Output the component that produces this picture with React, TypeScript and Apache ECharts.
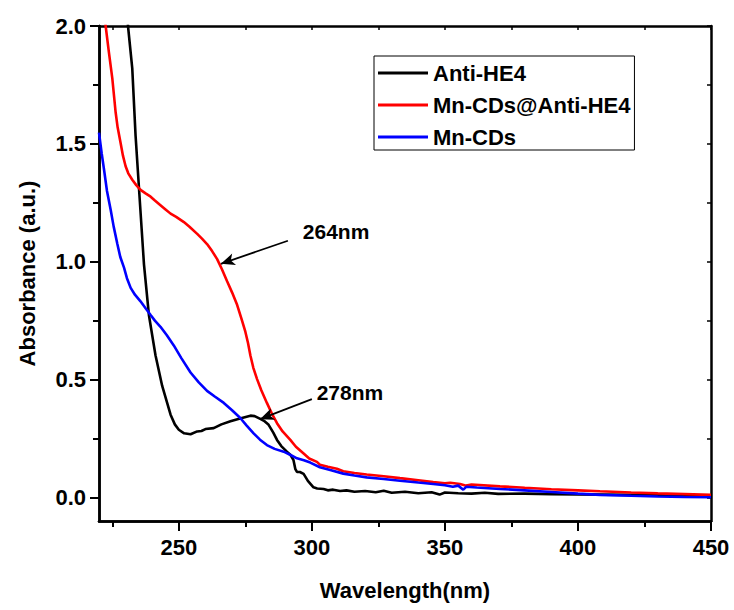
import React, { useEffect, useRef } from "react";
import * as echarts from "echarts";

const FONT = "'Liberation Sans', Arial, sans-serif";

const seriesNames = ["Anti-HE4", "Mn-CDs@Anti-HE4", "Mn-CDs"];
const seriesColors = ["#000000", "#ff0000", "#0000ff"];

const xLabelValues = [250, 300, 350, 400, 450];
const xMinorTicks = [225, 275, 325, 375, 425];
const xAllTicks = [225, 250, 275, 300, 325, 350, 375, 400, 425, 450];
const yLabelValues = [0, 0.5, 1, 1.5, 2];
const yMinorTicks = [0.25, 0.75, 1.25, 1.75];
const yAllTicks = [0, 0.25, 0.5, 0.75, 1, 1.25, 1.5, 1.75, 2];

const antiHE4: [number, number][] = [
  [228, 2.6], [230, 2.15], [230.9, 2.0], [232.5, 1.82], [233.75, 1.534], [235.4, 1.247],
  [236.9, 0.989], [238.75, 0.774], [241.25, 0.602], [243.75, 0.473], [246.9, 0.351],
  [248.5, 0.31], [250, 0.287], [252, 0.272], [254.4, 0.268], [256.9, 0.28], [258.5, 0.282],
  [260, 0.29], [263.1, 0.294], [266, 0.31], [269.4, 0.323], [273, 0.335], [276.9, 0.347],
  [278.5, 0.345], [280.6, 0.333], [282, 0.325], [283.75, 0.308], [285.5, 0.275], [286.9, 0.244],
  [288.5, 0.218], [290.6, 0.194], [292, 0.18], [293.1, 0.158], [293.8, 0.12], [294.4, 0.108],
  [295.5, 0.108], [296.9, 0.1], [298.5, 0.07], [300.6, 0.043], [302, 0.038], [304.4, 0.036],
  [306, 0.03], [308, 0.033], [310.6, 0.027], [313, 0.03], [316, 0.024], [320, 0.027],
  [324, 0.022], [327, 0.028], [330, 0.02], [335, 0.024], [340, 0.018], [345, 0.022],
  [348, 0.012], [350, 0.021], [355, 0.018], [360, 0.016], [365, 0.02], [370, 0.015],
  [380, 0.016], [390, 0.014], [400, 0.013], [410, 0.012], [420, 0.011], [430, 0.01],
  [440, 0.009], [450, 0.008],
];

const mnCDsAntiHE4: [number, number][] = [
  [221, 2.2], [222.5, 2.0], [223.7, 1.89], [225, 1.778], [226.25, 1.634], [227, 1.57],
  [228.1, 1.505], [229, 1.45], [230, 1.405], [231, 1.375], [232.5, 1.348], [234, 1.325],
  [235.6, 1.305], [237.5, 1.29], [239.4, 1.276], [241, 1.26], [243.1, 1.24], [245, 1.222],
  [246.9, 1.204], [249, 1.19], [251.9, 1.168], [254, 1.148], [256.9, 1.118], [258.7, 1.098],
  [260.6, 1.075], [262.5, 1.045], [264.4, 1.011], [266.2, 0.968], [268.1, 0.918], [270, 0.87],
  [271.9, 0.817], [273.5, 0.76], [275, 0.703], [276, 0.655], [276.9, 0.602], [278, 0.55],
  [279.4, 0.502], [281, 0.455], [283.1, 0.401], [285, 0.355], [286.9, 0.315], [289, 0.28],
  [291.9, 0.244], [294, 0.215], [296.9, 0.186], [299, 0.165], [301.9, 0.151], [303, 0.139],
  [306, 0.13], [309.4, 0.122], [311.8, 0.111], [316, 0.104], [320.6, 0.097], [327, 0.09],
  [333.1, 0.082], [340, 0.073], [345.6, 0.065], [350, 0.06], [352, 0.062], [355.7, 0.057],
  [358, 0.05], [360, 0.055], [370.7, 0.047], [380, 0.041], [390, 0.035], [400, 0.03],
  [408.3, 0.026], [420, 0.021], [430, 0.017], [440, 0.014], [450, 0.011],
];

const mnCDs: [number, number][] = [
  [220, 1.548], [221, 1.46], [221.9, 1.39], [223, 1.3], [224.4, 1.219], [225.5, 1.15],
  [226.9, 1.075], [228, 1.02], [229.4, 0.975], [230.5, 0.93], [231.9, 0.889], [233.5, 0.86],
  [235.6, 0.832], [237.5, 0.803], [239.4, 0.774], [241, 0.75], [243.1, 0.724], [245.5, 0.688],
  [248.1, 0.645], [251, 0.59], [254.4, 0.53], [257.5, 0.488], [260.6, 0.452], [263.5, 0.428],
  [266.9, 0.401], [270, 0.37], [273.1, 0.337], [275.5, 0.305], [278.1, 0.272], [280.5, 0.245],
  [283.1, 0.222], [286, 0.206], [289.4, 0.194], [292, 0.18], [294.4, 0.166], [297, 0.158],
  [299.4, 0.148], [303, 0.128], [306.9, 0.116], [311.8, 0.101], [316, 0.093], [320.6, 0.085],
  [327, 0.078], [333.1, 0.071], [340, 0.063], [345.6, 0.057], [350, 0.052], [353, 0.045],
  [355, 0.05], [356.9, 0.033], [358, 0.045], [362, 0.042], [370.7, 0.036], [380, 0.03],
  [390, 0.023], [400, 0.016], [408.3, 0.011], [420, 0.007], [430, 0.004], [440, 0.002],
  [450, 0.001],
];

// annotation texts and arrows, in data coordinates
const annotationLabels: [number, number, string][] = [
  [309.1, 1.13, "264nm"],
  [314.3, 0.447, "278nm"],
];
const annotationArrows: [[number, number], [number, number]][] = [
  [[291.0, 1.089], [265.8, 0.991]],
  [[300.0, 0.417], [280.5, 0.332]],
];

export default function App() {
  const ref = useRef<HTMLDivElement>(null);
  useEffect(() => {
    if (!ref.current) return;
    const chart = echarts.init(ref.current, null, { renderer: "svg" });
    const axisLine = { show: true, onZero: false, lineStyle: { color: "#000", width: 2.5 } };
    const labelStyle = { fontFamily: FONT, fontSize: 22, fontWeight: "bold" as const, color: "#000" };
    const baseX = { type: "value" as const, min: 220, max: 450, splitLine: { show: false }, axisLine };
    const baseY = { type: "value" as const, min: -0.1, max: 2.0, splitLine: { show: false }, axisLine };
    chart.setOption({
      animation: false,
      backgroundColor: "#fff",
      grid: { left: 99, right: 23, top: 26, bottom: 89, containLabel: false },
      legend: {
        data: seriesNames,
        orient: "vertical",
        left: 374,
        top: 56,
        icon: "rect",
        itemWidth: 50,
        itemHeight: 3,
        itemGap: 10,
        padding: [6, 4, 2, 4],
        borderColor: "#000",
        borderWidth: 1,
        textStyle: { ...labelStyle, lineHeight: 22 },
      },
      xAxis: [
        {
          ...baseX,
          position: "bottom",
          offset: 0,
          name: "Wavelength(nm)",
          nameLocation: "middle",
          nameGap: 58,
          nameTextStyle: labelStyle,
          axisTick: { show: true, customValues: xLabelValues, length: 10, lineStyle: { color: "#000", width: 2 } },
          axisLabel: { show: true, customValues: xLabelValues, margin: 15, ...labelStyle },
        },
        {
          ...baseX,
          position: "bottom",
          offset: 0,
          axisTick: { show: true, customValues: xMinorTicks, length: 6, lineStyle: { color: "#000", width: 2 } },
          axisLabel: { show: false },
        },
        {
          ...baseX,
          position: "top",
          offset: 0,
          axisTick: { show: true, inside: true, customValues: xAllTicks, length: 4, lineStyle: { color: "#000", width: 1.5 } },
          axisLabel: { show: false },
        },
      ],
      yAxis: [
        {
          ...baseY,
          position: "left",
          offset: 0,
          name: "Absorbance (a.u.)",
          nameLocation: "middle",
          nameGap: 61,
          nameTextStyle: labelStyle,
          axisTick: { show: true, customValues: yLabelValues, length: 9, lineStyle: { color: "#000", width: 2 } },
          axisLabel: {
            show: true,
            customValues: yLabelValues,
            margin: 13,
            formatter: (v: number) => v.toFixed(1),
            ...labelStyle,
          },
        },
        {
          ...baseY,
          position: "left",
          offset: 0,
          axisTick: { show: true, customValues: yMinorTicks, length: 6, lineStyle: { color: "#000", width: 2 } },
          axisLabel: { show: false },
        },
        {
          ...baseY,
          position: "right",
          offset: 0,
          axisTick: { show: true, inside: true, customValues: yAllTicks, length: 4, lineStyle: { color: "#000", width: 1.5 } },
          axisLabel: { show: false },
        },
      ],
      series: [
        ...[antiHE4, mnCDsAntiHE4, mnCDs].map((d, i) => ({
          name: seriesNames[i],
          type: "line",
          data: d,
          symbol: "none",
          clip: true,
          color: seriesColors[i],
          lineStyle: { color: seriesColors[i], width: 2.6 },
        })),
        {
          name: "annotations",
          type: "scatter",
          data: annotationLabels,
          symbolSize: 1,
          itemStyle: { color: "rgba(0,0,0,0)" },
          silent: true,
          label: {
            show: true,
            position: "inside",
            formatter: (p: any) => p.value[2],
            ...labelStyle,
            color: "#000000",
            opacity: 1,
            textBorderWidth: 0,
            textBorderColor: "transparent",
            fontSize: 21,
          },
          markLine: {
            silent: true,
            symbol: ["none", "arrow"],
            symbolSize: [9, 14],
            label: { show: false },
            lineStyle: { color: "#000", width: 1.8, type: "solid" },
            data: annotationArrows.map(([a, b]) => [{ coord: a }, { coord: b }]),
          },
        },
      ],
    });
    return () => chart.dispose();
  }, []);
  return <div ref={ref} style={{ position: "fixed", left: 0, top: 0, width: 734, height: 610 }} />;
}
